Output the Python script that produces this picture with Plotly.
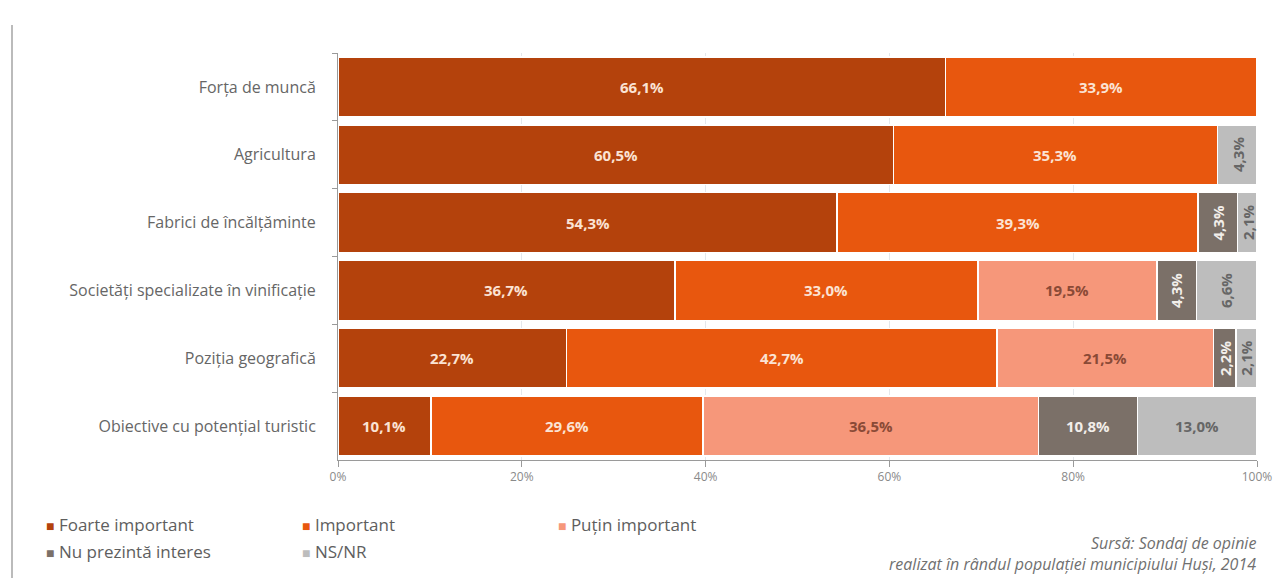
import plotly.graph_objects as go

categories = [
    "Forța de muncă",
    "Agricultura",
    "Fabrici de încălțăminte",
    "Societăți specializate în vinificație",
    "Poziția geografică",
    "Obiective cu potențial turistic",
]
series_names = ["Foarte important", "Important", "Puțin important", "Nu prezintă interes", "NS/NR"]
foarte_important = [66.1, 60.5, 54.3, 36.7, 22.7, 10.1]
important = [33.9, 35.3, 39.3, 33.0, 42.7, 29.6]
putin_important = [0, 0, 0, 19.5, 21.5, 36.5]
nu_prezinta_interes = [0, 0, 4.3, 4.3, 2.2, 10.8]
ns_nr = [0, 4.3, 2.1, 6.6, 2.1, 13.0]
x_ticks = [0, 20, 40, 60, 80, 100]
source_lines = ["Sursă: Sondaj de opinie", "realizat în rândul populației municipiului Huși, 2014"]

series_values = [foarte_important, important, putin_important, nu_prezinta_interes, ns_nr]
colors = ["#B4420C", "#E8570E", "#F6977A", "#7B7068", "#BDBDBD"]
label_colors = ["#FBE3D4", "#FBE3D4", "#8A4A36", "#F2EEEA", "#666666"]

FONT = "'Open Sans', Lato, sans-serif"

fig = go.Figure()
for name, vals, col in zip(series_names, series_values, colors):
    fig.add_trace(go.Bar(
        y=categories, x=vals, name=name, orientation="h",
        marker=dict(color=col, line=dict(color="white", width=1.5)),
        showlegend=False, hoverinfo="x+name",
    ))

# segment labels, positioned at the centre of each normalised segment
annotations = []
for i, cat in enumerate(categories):
    total = sum(s[i] for s in series_values)
    start = 0.0
    for vals, lc in zip(series_values, label_colors):
        v = vals[i]
        share = v / total * 100
        if v > 0:
            annotations.append(dict(
                x=start + share / 2, y=cat, xref="x", yref="y",
                text="<b>%s%%</b>" % ("%.1f" % v).replace(".", ","),
                showarrow=False, textangle=-90 if share < 8 else 0,
                font=dict(family=FONT, size=15, color=lc),
            ))
        start += share

# legend drawn as coloured squares followed by the series name
legend_pos = [(44, 524), (300, 524), (556, 524), (44, 551), (300, 551)]
W, H = 1275, 578
L, R, T, B = 338, 18, 53, 118
pw, ph = W - L - R, H - T - B


def px_to_paper(px, py):
    return (px - L) / pw, (H - B - py) / ph


for name, col, (px, py) in zip(series_names, colors, legend_pos):
    xp, yp = px_to_paper(px, py)
    annotations.append(dict(
        x=xp, y=yp, xref="paper", yref="paper", xanchor="left", yanchor="middle",
        text="<span style='color:%s;font-size:14px'>■</span> %s" % (col, name),
        showarrow=False, font=dict(family=FONT, size=17, color="#5E5E5E"),
    ))

for line, py in zip(source_lines, [543, 564]):
    xp, yp = px_to_paper(1258, py)
    annotations.append(dict(
        x=xp, y=yp, xref="paper", yref="paper", xanchor="right", yanchor="middle",
        text="<i>%s</i>" % line, showarrow=False,
        font=dict(family=FONT, size=16, color="#707070"),
    ))

x0, y0 = px_to_paper(12, 25)
x1, y1 = px_to_paper(12, 578)

fig.update_layout(
    width=W, height=H,
    margin=dict(l=L, r=R, t=T, b=B, autoexpand=False),
    barmode="stack", barnorm="percent", bargap=0.12,
    plot_bgcolor="white", paper_bgcolor="white",
    font=dict(family=FONT, size=14, color="#595959"),
    annotations=annotations,
    shapes=[dict(type="line", xref="paper", yref="paper", x0=x0, x1=x1, y0=y0, y1=y1,
                 line=dict(color="#BBBBBB", width=2))],
    xaxis=dict(
        range=[0, 100], tickvals=x_ticks, ticktext=["%d%%" % t for t in x_ticks],
        showgrid=True, gridcolor="#E4E8EC", gridwidth=1, zeroline=False,
        showline=True, linecolor="#9A9A9A", linewidth=1, automargin=False,
        ticks="outside", ticklen=6, tickcolor="#9A9A9A",
        tickfont=dict(size=12, color="#8A8A8A"),
    ),
    yaxis=dict(
        autorange="reversed", showline=True, linecolor="#9A9A9A", linewidth=1,
        ticks="outside", tickson="boundaries", ticklen=5, tickcolor="#9A9A9A",
        tickfont=dict(size=16, color="#666666"), ticklabelstandoff=18, automargin=False,
    ),
)

fig.write_html("out.html")
